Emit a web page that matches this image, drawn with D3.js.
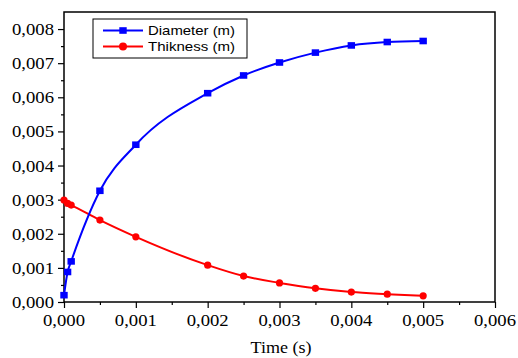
<!DOCTYPE html>
<html>
<head>
<meta charset="utf-8">
<script src="https://cdn.jsdelivr.net/npm/d3@7"></script>
<style>
  body { margin: 0; background: #fff; }
</style>
</head>
<body>
<div class="chart"></div>
<script>
var timeValues = [0, 0.00005, 0.0001, 0.0005, 0.001, 0.002, 0.0025, 0.003, 0.0035, 0.004, 0.0045, 0.005];
var diameterValues = [0.0002, 0.00088, 0.00119, 0.00326, 0.00461, 0.00612, 0.00664, 0.00702, 0.00731, 0.00752, 0.00762, 0.00765];
var thiknessValues = [0.00299, 0.00289, 0.00284, 0.0024, 0.00191, 0.00108, 0.00076, 0.00056, 0.0004, 0.00029, 0.00023, 0.00018];
var xTicks = [0, 0.001, 0.002, 0.003, 0.004, 0.005, 0.006];
var yTicks = [0, 0.001, 0.002, 0.003, 0.004, 0.005, 0.006, 0.007, 0.008];
var seriesNames = ["Diameter (m)", "Thikness (m)"];

var draw = function () {

  var opts = { width: 518, height: 358, left: 64, right: 495, top: 12, bottom: 302 };
  var serif = "'Liberation Serif', 'Times New Roman', serif";

  var svg = d3.select(".chart").append("svg")
    .attr("width", opts.width)
    .attr("height", opts.height);

  var x = d3.scaleLinear().domain([0, 0.006]).range([opts.left, opts.right]);
  var y = d3.scaleLinear().domain([0, 0.0085]).range([opts.bottom, opts.top]);

  var fmt = function (d) { return d3.format(".3f")(d).replace(".", ","); };

  // minor ticks (halfway)
  var xMinor = d3.range(0.0005, 0.006, 0.001);
  var yMinor = d3.range(0.0005, 0.0085, 0.001);

  svg.append("g")
    .attr("transform", "translate(0," + opts.bottom + ")")
    .call(d3.axisBottom(x).tickValues(xTicks).tickFormat("").tickSize(6));
  svg.append("g")
    .attr("transform", "translate(0," + opts.bottom + ")")
    .call(d3.axisBottom(x).tickValues(xMinor).tickFormat("").tickSize(3));
  svg.append("g")
    .attr("transform", "translate(" + opts.left + ",0)")
    .call(d3.axisLeft(y).tickValues(yTicks).tickFormat("").tickSize(6));
  svg.append("g")
    .attr("transform", "translate(" + opts.left + ",0)")
    .call(d3.axisLeft(y).tickValues(yMinor).tickFormat("").tickSize(3));

  svg.selectAll(".tick line").attr("stroke", "#000").attr("stroke-width", 1.2);
  svg.selectAll(".domain").remove();

  // tick labels
  svg.selectAll(".xlab").data(xTicks).enter().append("text")
    .attr("class", "xlab")
    .attr("x", function (d) { return x(d); })
    .attr("y", opts.bottom + 24)
    .attr("text-anchor", "middle")
    .attr("font-family", serif)
    .attr("font-size", 17)
    .attr("textLength", 42).attr("lengthAdjust", "spacingAndGlyphs")
    .text(fmt);
  svg.selectAll(".ylab").data(yTicks).enter().append("text")
    .attr("class", "ylab")
    .attr("x", opts.left - 10)
    .attr("y", function (d) { return y(d) + 6; })
    .attr("text-anchor", "end")
    .attr("font-family", serif)
    .attr("font-size", 17)
    .attr("textLength", 42).attr("lengthAdjust", "spacingAndGlyphs")
    .text(fmt);

  // frame
  svg.append("rect")
    .attr("x", opts.left).attr("y", opts.top)
    .attr("width", opts.right - opts.left)
    .attr("height", opts.bottom - opts.top)
    .attr("fill", "none").attr("stroke", "#000").attr("stroke-width", 1.5);

  svg.append("text")
    .attr("x", 281)
    .attr("y", 353)
    .attr("text-anchor", "middle")
    .attr("font-family", serif)
    .attr("font-size", 17)
    .attr("textLength", 61).attr("lengthAdjust", "spacingAndGlyphs")
    .text("Time (s)");

  var diaData = timeValues.map(function (t, i) { return { t: t, v: diameterValues[i] }; });
  var thiData = timeValues.map(function (t, i) { return { t: t, v: thiknessValues[i] }; });

  var line = d3.line()
    .x(function (d) { return x(d.t); })
    .y(function (d) { return y(d.v); })
    .curve(d3.curveMonotoneX);

  svg.append("path").datum(thiData)
    .attr("d", line).attr("fill", "none")
    .attr("stroke", "#ff0000").attr("stroke-width", 2);
  svg.append("path").datum(diaData)
    .attr("d", line).attr("fill", "none")
    .attr("stroke", "#0000ff").attr("stroke-width", 2);

  svg.selectAll(".thi").data(thiData).enter().append("circle")
    .attr("class", "thi")
    .attr("cx", function (d) { return x(d.t); })
    .attr("cy", function (d) { return y(d.v); })
    .attr("r", 3.6)
    .attr("fill", "#ff0000");

  svg.selectAll(".dia").data(diaData).enter().append("rect")
    .attr("class", "dia")
    .attr("x", function (d) { return x(d.t) - 3.7; })
    .attr("y", function (d) { return y(d.v) - 3.3; })
    .attr("width", 7.4).attr("height", 6.6)
    .attr("fill", "#0000ff");

  // legend
  var legend = svg.append("g");
  legend.append("rect")
    .attr("x", 93).attr("y", 19).attr("width", 154).attr("height", 39)
    .attr("fill", "#fff").attr("stroke", "#000").attr("stroke-width", 1);

  var colors = ["#0000ff", "#ff0000"];
  seriesNames.forEach(function (name, i) {
    var ly = 30.5 + i * 16;
    legend.append("line")
      .attr("x1", 103).attr("x2", 143).attr("y1", ly).attr("y2", ly)
      .attr("stroke", colors[i]).attr("stroke-width", 2);
    if (i === 0) {
      legend.append("rect").attr("x", 119.3).attr("y", ly - 3.3)
        .attr("width", 7.4).attr("height", 6.6).attr("fill", colors[i]);
    } else {
      legend.append("circle").attr("cx", 123).attr("cy", ly).attr("r", 4)
        .attr("fill", colors[i]);
    }
    legend.append("text")
      .attr("x", 148).attr("y", ly + 4.5)
      .attr("font-family", "'Liberation Sans', Arial, sans-serif")
      .attr("font-size", 13)
      .attr("textLength", 87).attr("lengthAdjust", "spacingAndGlyphs")
      .text(name);
  });
};

draw();
</script>
</body>
</html>
